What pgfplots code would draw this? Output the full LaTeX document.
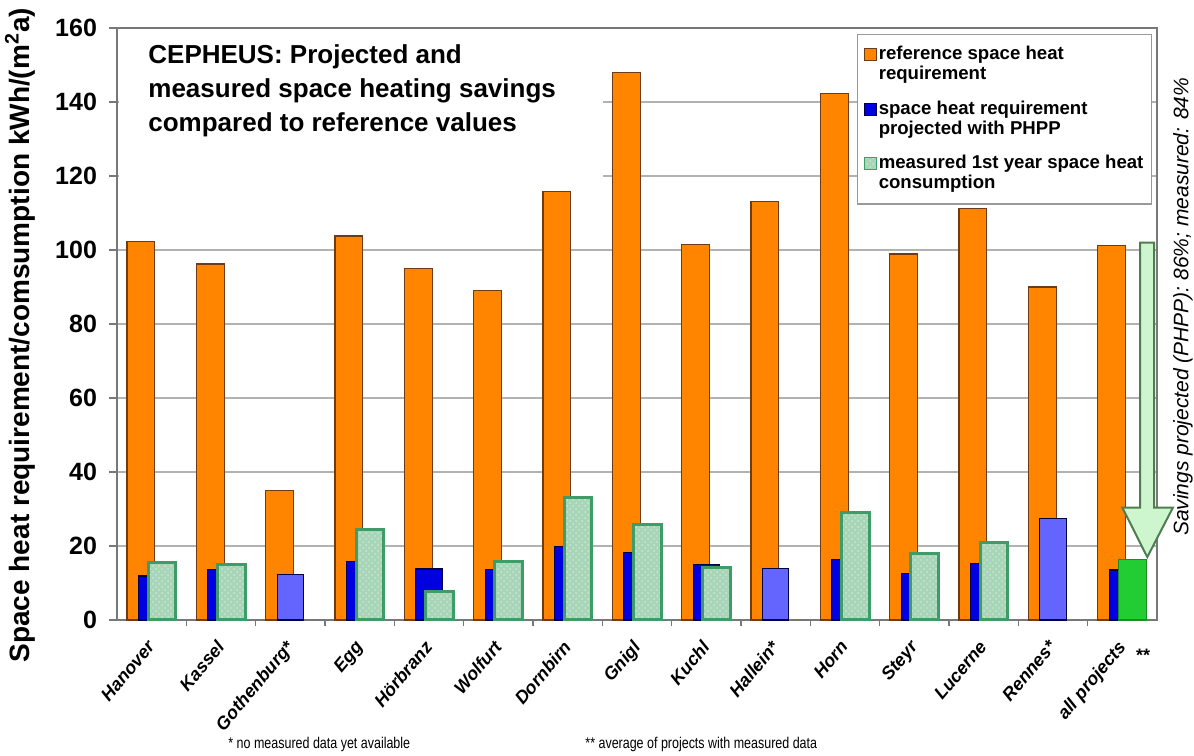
\documentclass[border=0pt]{standalone}
\usepackage{fontspec}
\setmainfont{Liberation Sans}
\newfontfamily\narrowfont[FakeStretch=0.8]{Liberation Sans}
\usepackage{pgfplots}
\pgfplotsset{compat=1.18}
\usetikzlibrary{patterns}
\definecolor{refor}{RGB}{255,132,0}
\definecolor{refbd}{RGB}{110,60,20}
\definecolor{phpp}{RGB}{0,0,225}
\definecolor{phppbd}{RGB}{0,0,70}
\definecolor{phpplt}{RGB}{100,100,255}
\definecolor{meas}{RGB}{168,212,184}
\definecolor{measdot}{RGB}{200,232,210}
\definecolor{measbd}{RGB}{62,156,104}
\definecolor{measall}{RGB}{34,204,51}
\definecolor{arrfill}{RGB}{206,246,206}
\definecolor{arrbd}{RGB}{80,125,80}
\definecolor{axgray}{RGB}{120,120,120}
\begin{document}
\begin{tikzpicture}
\path[use as bounding box] (-58.5pt,-67.5pt) rectangle (538.5pt,310pt);
\begin{axis}[
  at={(0pt,0pt)}, anchor=south west,
  scale only axis, width=520pt, height=296pt,
  xmin=-0.5, xmax=14.5, ymin=0, ymax=160,
  ytick={0,20,...,160},
  xtick={0,...,14},
  xticklabels={Hanover,Kassel,Gothenburg*,Egg,Hörbranz,Wolfurt,Dornbirn,Gnigl,Kuchl,Hallein*,Horn,Steyr,Lucerne,Rennes*,all projects},
  minor xtick={0.5,1.5,...,13.5},
  ymajorgrids, grid style={draw=gray!60, line width=0.6pt},
  major x tick style={draw=none},
  tick align=outside, tick pos=left,
  major tick length=4pt, minor tick length=3pt,
  tick style={draw=axgray, line width=0.6pt},
  axis line style={draw=axgray, line width=0.7pt},
  /pgf/number format/assume math mode=true,
  yticklabel style={font=\bfseries\fontsize{12.5}{14}\selectfont, xshift=-2.5pt},
  xticklabel style={xshift=-3pt, yshift=-4pt, rotate=50, anchor=north east, font=\bfseries\itshape\fontsize{9}{10}\selectfont, inner sep=1pt},
  clip=false,
  legend image code/.code={\draw[#1, line width=0.6pt] (0pt,2pt) rectangle (6pt,8pt);},
  legend cell align=left,
  legend style={at={(0.7115,0.99)}, anchor=north west, draw=gray!80, fill=white, line width=0.6pt,
    font=\bfseries\fontsize{9.3}{10}\selectfont, row sep=7pt, inner xsep=3pt, inner ysep=5pt,
    nodes={align=left, inner sep=1pt}},
]
\fill[white] (rel axis cs:0.002,0.74) rectangle (rel axis cs:0.467,0.998);
\node[anchor=north west, align=left, font=\bfseries\fontsize{13}{17}\selectfont, inner sep=0pt]
  at ([xshift=15.5pt, yshift=-8pt]rel axis cs:0,1) {CEPHEUS: Projected and\\measured space heating savings\\compared to reference values};

\addplot[ybar, bar width=0.40, bar shift=-0.155, fill=refor, draw=refbd, line width=0.6pt]
  coordinates {(0,102.4) (1,96.2) (2,35.1) (3,103.8) (4,95.0) (5,89.0) (6,115.8) (7,148.0) (8,101.5) (9,113.2) (10,142.3) (11,98.9) (12,111.3) (13,90.0) (14,101.3)};
\addlegendentry{reference space heat\\requirement}
\addplot[ybar, bar width=0.38, bar shift=0, fill=phpp, draw=phppbd, line width=0.6pt]
  coordinates {(0,11.9) (1,13.7) (3,15.8) (4,13.8) (5,13.7) (6,19.8) (7,18.2) (8,15.1) (10,16.4) (11,12.6) (12,15.3) (14,13.5)};
\addlegendentry{space heat requirement\\projected with PHPP}
\addplot[ybar, bar width=0.38, bar shift=0, fill=phpplt, draw=phppbd, line width=0.6pt, forget plot]
  coordinates {(2,12.4) (9,14.0) (13,27.4)};
\addplot[ybar, bar width=0.40, bar shift=0.15, fill=meas, draw=measbd, line width=1.5pt,
    postaction={pattern=crosshatch dots, pattern color=measdot}]
  coordinates {(0,15.5) (1,15.0) (3,24.5) (4,7.6) (5,15.7) (6,33.2) (7,25.8) (8,14.3) (10,29.0) (11,18.0) (12,21.0)};
\addlegendentry{measured 1st year space heat\\consumption}
\addplot[ybar, bar width=0.40, bar shift=0.15, fill=measall, draw=measall!70!black, line width=0.6pt, forget plot]
  coordinates {(14,16.4)};
\addplot[fill=arrfill, draw=arrbd, line width=1pt, forget plot]
  coordinates {(14.255,102) (14.46,102) (14.46,30.4) (14.73,30.4) (14.36,17) (14.0,30.4) (14.255,30.4)} -- cycle;

\node[font=\bfseries\fontsize{14}{15}\selectfont, rotate=90] at ([xshift=-48.5pt]rel axis cs:0,0.481) {Space heat requirement/comsumption kWh/(m\textsuperscript{2}a)};
\node[font=\itshape\fontsize{10.5}{11}\selectfont, rotate=90] at ([xshift=13pt]rel axis cs:1,0.529) {Savings projected (PHPP): 86\%; measured: 84\%};
\node[font=\bfseries\fontsize{9}{10}\selectfont] at ([yshift=-17.5pt]axis cs:14.3,0) {**};
\node[anchor=base west, font=\narrowfont\fontsize{7.8}{8}\selectfont, inner sep=0pt] at ([xshift=55.5pt, yshift=-64pt]rel axis cs:0,0) {* no measured data yet available};
\node[anchor=base west, font=\narrowfont\fontsize{7.8}{8}\selectfont, inner sep=0pt] at ([xshift=234pt, yshift=-64pt]rel axis cs:0,0) {** average of projects with measured data};
\end{axis}
\end{tikzpicture}
\end{document}
